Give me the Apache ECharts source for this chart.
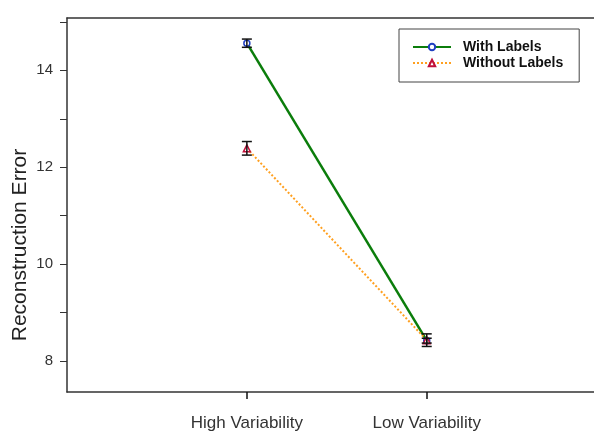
<!DOCTYPE html>
<html>
<head>
<meta charset="utf-8">
<script src="https://cdn.jsdelivr.net/npm/echarts@6/dist/echarts.min.js"></script>
<style>
html,body{margin:0;padding:0;background:#fff;}
#chart{width:594px;height:432px;}
</style>
</head>
<body>
<div id="chart"></div>
<script>
// ---- data ----
const categories = ['High Variability', 'Low Variability'];
const categoryPos = [1, 2];
const withLabels = [14.56, 8.42];
const withLabelsErr = [0.085, 0.05];
const withoutLabels = [12.39, 8.43];
const withoutLabelsErr = [0.14, 0.13];
const yTickLabels = [8, 10, 12, 14];
const yTicks = [8, 9, 10, 11, 12, 13, 14, 15];

const font = 'Liberation Sans, Arial, sans-serif';

function pts(vals) { return vals.map((v, i) => [categoryPos[i], v]); }
function errs(vals, e) { return vals.map((v, i) => [categoryPos[i], v - e[i], v + e[i]]); }

function errRender(params, api) {
  const x = api.value(0), lo = api.value(1), hi = api.value(2);
  const p1 = api.coord([x, hi]), p2 = api.coord([x, lo]);
  const w = 5;
  const st = { stroke: '#111', lineWidth: 1.5 };
  return {
    type: 'group',
    children: [
      { type: 'line', shape: { x1: p1[0], y1: p1[1], x2: p2[0], y2: p2[1] }, style: st },
      { type: 'line', shape: { x1: p1[0] - w, y1: p1[1], x2: p1[0] + w, y2: p1[1] }, style: st },
      { type: 'line', shape: { x1: p2[0] - w, y1: p2[1], x2: p2[0] + w, y2: p2[1] }, style: st }
    ]
  };
}

const chart = echarts.init(document.getElementById('chart'), null, { renderer: 'canvas' });
chart.setOption({
  backgroundColor: '#fff',
  animation: false,
  grid: { left: 67, right: 0, top: 18, bottom: 40, outerBoundsMode: 'none', containLabel: false },
  legend: {
    left: 399, top: 29,
    orient: 'vertical',
    padding: [11, 16, 12, 13],
    itemWidth: 38, itemHeight: 8, itemGap: 2,
    borderColor: '#444', borderWidth: 1,
    backgroundColor: '#fff',
    textStyle: { fontFamily: font, fontSize: 14, fontWeight: 'bold', color: '#111', padding: [0, 0, 0, 7] },
    data: ['With Labels', 'Without Labels']
  },
  xAxis: [{
    type: 'value', min: 0, max: 2.93,
    axisLine: { show: true, lineStyle: { color: '#333', width: 1.5 } },
    axisTick: { show: true, length: 7, customValues: categoryPos, lineStyle: { color: '#111', width: 1.5 } },
    axisLabel: {
      customValues: categoryPos, margin: 23,
      formatter: v => categories[Math.round(v) - 1] || '',
      fontFamily: font, fontSize: 17, color: '#333'
    },
    splitLine: { show: false }
  }, {
    type: 'value', min: 0, max: 2.93, position: 'top',
    axisLine: { show: true, lineStyle: { color: '#333', width: 1.5 } },
    axisTick: { show: false }, axisLabel: { show: false }, splitLine: { show: false }
  }],
  yAxis: {
    type: 'value', min: 7.36, max: 15.08,
    name: 'Reconstruction Error', nameLocation: 'middle', nameGap: 36, nameMoveOverlap: false,
    nameTextStyle: { fontFamily: font, fontSize: 21, color: '#222', padding: [0, 80, 0, 0] },
    axisLine: { show: true, lineStyle: { color: '#333', width: 1.5 } },
    axisTick: { show: true, length: 7, customValues: yTicks, lineStyle: { color: '#333', width: 1 } },
    axisLabel: { customValues: yTickLabels, margin: 14, fontFamily: font, fontSize: 15, color: '#333' },
    splitLine: { show: false }
  },
  series: [
    {
      name: 'With Labels', type: 'line', data: pts(withLabels),
      symbol: 'circle', symbolSize: 6,
      lineStyle: { color: '#0b7d0b', width: 2.5 },
      itemStyle: { color: '#fff', borderColor: '#1f3fc0', borderWidth: 1.5 },
      z: 3
    },
    {
      name: 'Without Labels', type: 'line', data: pts(withoutLabels),
      symbol: 'triangle', symbolSize: 7,
      lineStyle: { color: '#ffa020', width: 2, type: 'dotted' },
      itemStyle: { color: '#fff', borderColor: '#c0103a', borderWidth: 1.5 },
      z: 3
    },
    { type: 'custom', renderItem: errRender, data: errs(withLabels, withLabelsErr), encode: { x: 0, y: [1, 2] }, z: 4, silent: true },
    { type: 'custom', renderItem: errRender, data: errs(withoutLabels, withoutLabelsErr), encode: { x: 0, y: [1, 2] }, z: 4, silent: true }
  ]
});
</script>
</body>
</html>
